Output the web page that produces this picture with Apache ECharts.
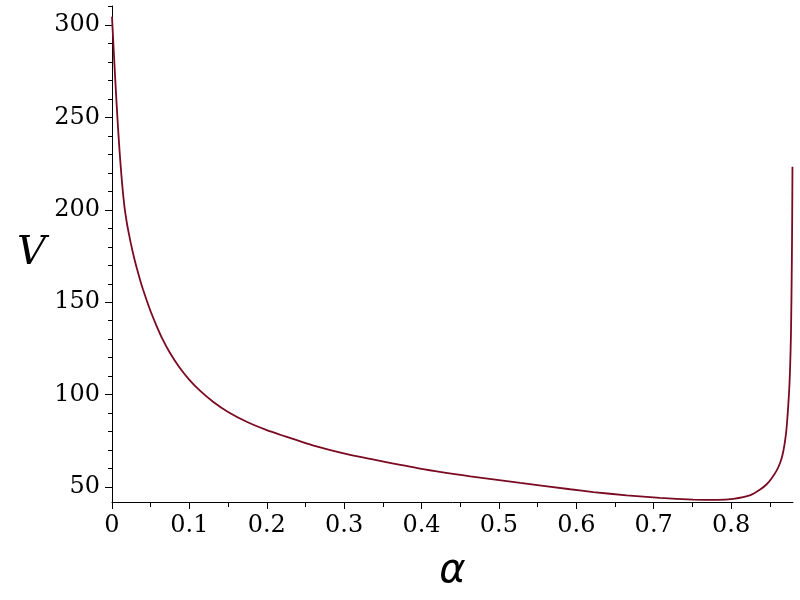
<!DOCTYPE html>
<html>
<head>
<meta charset="utf-8">
<script src="https://cdn.jsdelivr.net/npm/echarts@6/dist/echarts.min.js"></script>
<style>
  html, body { margin: 0; padding: 0; background: #ffffff; }
  #chart { width: 800px; height: 600px; }
</style>
</head>
<body>
<div id="chart"></div>
<script>
// α values (x) and V values (y)
const alphaValues = [
  0, 0.002, 0.004, 0.006, 0.008, 0.010, 0.012, 0.014, 0.016, 0.018,
  0.020, 0.024, 0.028, 0.032, 0.036, 0.040, 0.045, 0.050, 0.057, 0.065,
  0.075, 0.087, 0.100, 0.114, 0.131, 0.150, 0.174, 0.200, 0.2175, 0.2605,
  0.3036, 0.334, 0.398, 0.463, 0.5275, 0.592, 0.622, 0.665, 0.708, 0.751,
  0.782, 0.803, 0.825, 0.838, 0.846, 0.852, 0.859, 0.8635, 0.8665, 0.869,
  0.871, 0.8725, 0.874, 0.8755, 0.8765, 0.8773, 0.878, 0.8786, 0.879, 0.8793
];
const vValues = [
  304.5, 288, 272, 257, 243, 230.5, 219.5, 210, 202, 196,
  191, 182.5, 175, 168.5, 162.5, 157, 150.8, 145, 137.8, 130.3,
  122.5, 114.8, 108, 102, 96, 90.6, 85.3, 80.8, 78.3, 72.4,
  67.8, 65.2, 60.0, 55.8, 52.2, 48.8, 47.3, 45.5, 44.1, 43.2,
  43.0, 43.6, 45.6, 48.8, 51.5, 54.5, 59.0, 63.3, 67.5, 73,
  79, 86, 95, 106, 118, 131.3, 152, 176, 199, 223.3
];
const xTickValues = [0, 0.1, 0.2, 0.3, 0.4, 0.5, 0.6, 0.7, 0.8];
const yTickValues = [50, 100, 150, 200, 250, 300];

const seriesData = alphaValues.map((a, i) => [a, vValues[i]]);

const chart = echarts.init(document.getElementById('chart'), null, { renderer: 'canvas' });
const option = {
  animation: false,
  backgroundColor: '#ffffff',
  grid: { left: 112, right: 7, top: 6, bottom: 98, containLabel: false },
  xAxis: {
    type: 'value',
    min: 0,
    max: 0.88,
    interval: 0.1,
    name: 'α',
    nameLocation: 'middle',
    nameGap: 50,
    nameTextStyle: { fontFamily: 'DejaVu Sans', fontStyle: 'italic', fontSize: 40, color: '#000' },
    axisLine: { show: true, lineStyle: { color: '#000', width: 1 } },
    axisTick: { show: true, length: 7, lineStyle: { color: '#000' }, customValues: xTickValues },
    minorTick: { show: true, splitNumber: 2, length: 5, lineStyle: { color: '#000' } },
    axisLabel: { margin: 12, fontFamily: 'DejaVu Serif', fontSize: 24, color: '#000', customValues: xTickValues },
    splitLine: { show: false },
    minorSplitLine: { show: false }
  },
  yAxis: {
    type: 'value',
    min: 41.9,
    max: 310.3,
    splitNumber: 5,
    name: 'V',
    nameLocation: 'middle',
    nameRotate: 0,
    nameGap: 66,
    nameTextStyle: { fontFamily: 'DejaVu Serif', fontStyle: 'italic', fontSize: 40, color: '#000' },
    axisLine: { show: true, lineStyle: { color: '#000', width: 1 } },
    axisTick: { show: true, length: 7, lineStyle: { color: '#000' }, customValues: yTickValues },
    minorTick: { show: true, splitNumber: 5, length: 4, lineStyle: { color: '#000' } },
    axisLabel: { margin: 12, fontFamily: 'DejaVu Serif', fontSize: 24, color: '#000', customValues: yTickValues },
    splitLine: { show: false },
    minorSplitLine: { show: false }
  },
  series: [{
    type: 'line',
    data: seriesData,
    showSymbol: false,
    smooth: 0.2,
    lineStyle: { color: '#7a0a22', width: 1.8 },
    itemStyle: { color: '#7a0a22' }
  }]
};
chart.setOption(option);
</script>
</body>
</html>
